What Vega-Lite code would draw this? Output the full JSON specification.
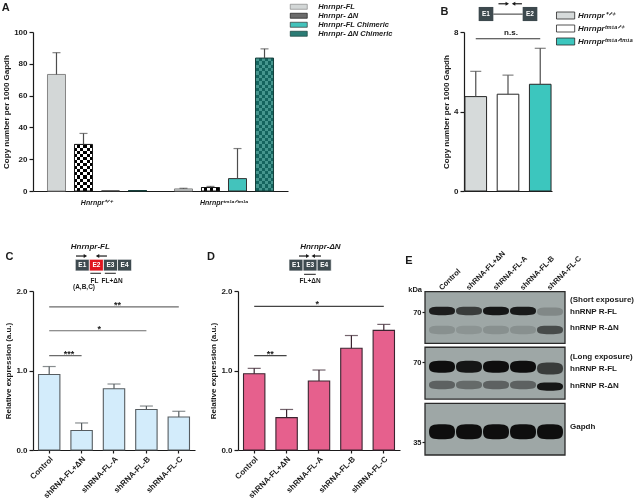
{
 "$schema": "https://vega.github.io/schema/vega-lite/v6.json",
 "background": "white",
 "padding": {"left": 1, "top": 1, "right": 0, "bottom": 0},
 "spacing": 38,
 "resolve": {"scale": {"color": "independent", "fill": "independent", "stroke": "independent", "opacity": "independent", "shape": "independent"}},
 "config": {
  "font": "Liberation Sans",
  "view": {"stroke": null},
  "axis": {"grid": false, "labelFontWeight": "bold", "labelFontSize": 8, "labelColor": "#1a1a1a", "titleFontWeight": "bold", "titleFontSize": 8, "titleColor": "#1a1a1a", "domainColor": "#1a1a1a", "domainWidth": 1.2, "tickColor": "#1a1a1a", "tickWidth": 1.2, "tickSize": 4, "labelPadding": 2, "titlePadding": 3},
  "legend": {"labelFontWeight": "bold", "labelFontStyle": "italic", "labelColor": "#1a1a1a"},
  "title": {"fontSize": 11, "fontWeight": "bold", "anchor": "start", "offset": 0, "color": "#1a1a1a"}
 },
 "vconcat": [
  {
   "bounds": "flush",
   "spacing": 176,
   "resolve": {"scale": {"color": "independent", "fill": "independent", "stroke": "independent", "opacity": "independent", "shape": "independent"}},
   "hconcat": [
    {
     "title": {"text": "A", "dx": -1, "dy": 14},
     "width": 255,
     "height": 159,
     "data": {"values": [
      {"genotype": "Hnrnpr⁺ᐟ⁺", "series": "Hnrnpr-FL", "mean": 73.3, "upper": 87.0},
      {"genotype": "Hnrnpr⁺ᐟ⁺", "series": "Hnrnpr- ΔN", "mean": 29.3, "upper": 36.2},
      {"genotype": "Hnrnpr⁺ᐟ⁺", "series": "Hnrnpr-FL Chimeric", "mean": 0, "upper": null},
      {"genotype": "Hnrnpr⁺ᐟ⁺", "series": "Hnrnpr- ΔN Chimeric", "mean": 0.3, "upper": null},
      {"genotype": "Hnrnprᵗᵐ¹ᵃᐟᵗᵐ¹ᵃ", "series": "Hnrnpr-FL", "mean": 1.3, "upper": 1.7},
      {"genotype": "Hnrnprᵗᵐ¹ᵃᐟᵗᵐ¹ᵃ", "series": "Hnrnpr- ΔN", "mean": 2.2, "upper": 2.9},
      {"genotype": "Hnrnprᵗᵐ¹ᵃᐟᵗᵐ¹ᵃ", "series": "Hnrnpr-FL Chimeric", "mean": 7.8, "upper": 26.7},
      {"genotype": "Hnrnprᵗᵐ¹ᵃᐟᵗᵐ¹ᵃ", "series": "Hnrnpr- ΔN Chimeric", "mean": 83.6, "upper": 89.4}
     ]},
     "encoding": {
      "x": {"field": "genotype", "type": "nominal", "sort": null, "scale": {"domain": ["Hnrnpr⁺ᐟ⁺", "Hnrnprᵗᵐ¹ᵃᐟᵗᵐ¹ᵃ"], "paddingInner": 0.22, "paddingOuter": 0.114}, "axis": {"title": null, "labelAngle": 0, "ticks": false, "labelFontStyle": "italic", "labelFontSize": 7, "labelPadding": 7}},
      "xOffset": {"field": "series", "type": "nominal", "sort": null, "scale": {"domain": ["Hnrnpr-FL", "Hnrnpr- ΔN", "Hnrnpr-FL Chimeric", "Hnrnpr- ΔN Chimeric"], "paddingInner": 0.333, "paddingOuter": 0}},
      "y": {"field": "mean", "type": "quantitative", "scale": {"domain": [0, 100], "nice": false}, "axis": {"title": "Copy number per 1000 Gapdh", "values": [0, 20, 40, 60, 80, 100]}}
     },
     "layer": [
      {"mark": {"type": "bar"},
       "encoding": {"color": {"field": "series", "type": "nominal", "sort": null,
        "scale": {"domain": ["Hnrnpr-FL", "Hnrnpr- ΔN", "Hnrnpr-FL Chimeric", "Hnrnpr- ΔN Chimeric"], "range": ["#d3d7d7", "#6b6b6b", "#43c3bc", "#2b7c75"]},
        "legend": {"orient": "none", "legendX": 262, "legendY": -29, "title": null, "symbolType": "M-3.4,-1H3.4V1H-3.4Z", "symbolSize": 25, "symbolStrokeColor": "#333333", "symbolStrokeWidth": 0.7, "labelFontSize": 7.5, "labelOffset": 15.7, "rowPadding": 0}}}},
      {"transform": [{"filter": "datum.series == 'Hnrnpr- ΔN'"}],
       "mark": {"type": "bar", "fill": {"gradient": "linear", "x1": 0, "y1": 0, "x2": 1, "y2": 0, "stops": [
        {"offset": 0, "color": "#000000"}, {"offset": 0.1667, "color": "#000000"}, {"offset": 0.1667, "color": "#ffffff"}, {"offset": 0.3333, "color": "#ffffff"},
        {"offset": 0.3333, "color": "#000000"}, {"offset": 0.5, "color": "#000000"}, {"offset": 0.5, "color": "#ffffff"}, {"offset": 0.6667, "color": "#ffffff"},
        {"offset": 0.6667, "color": "#000000"}, {"offset": 0.8333, "color": "#000000"}, {"offset": 0.8333, "color": "#ffffff"}, {"offset": 1, "color": "#ffffff"}]}}},
      {"transform": [{"filter": "datum.series == 'Hnrnpr- ΔN'"}],
       "mark": {"type": "bar", "blend": "difference", "fill": {"gradient": "linear", "x1": 0, "y1": 0, "x2": 0, "y2": 1, "stops": [
        {"offset": 0, "color": "#ffffff"}, {"offset": 0.0667, "color": "#ffffff"}, {"offset": 0.0667, "color": "rgba(255,255,255,0)"}, {"offset": 0.1333, "color": "rgba(255,255,255,0)"},
        {"offset": 0.1333, "color": "#ffffff"}, {"offset": 0.2, "color": "#ffffff"}, {"offset": 0.2, "color": "rgba(255,255,255,0)"}, {"offset": 0.2667, "color": "rgba(255,255,255,0)"},
        {"offset": 0.2667, "color": "#ffffff"}, {"offset": 0.3333, "color": "#ffffff"}, {"offset": 0.3333, "color": "rgba(255,255,255,0)"}, {"offset": 0.4, "color": "rgba(255,255,255,0)"},
        {"offset": 0.4, "color": "#ffffff"}, {"offset": 0.4667, "color": "#ffffff"}, {"offset": 0.4667, "color": "rgba(255,255,255,0)"}, {"offset": 0.5333, "color": "rgba(255,255,255,0)"},
        {"offset": 0.5333, "color": "#ffffff"}, {"offset": 0.6, "color": "#ffffff"}, {"offset": 0.6, "color": "rgba(255,255,255,0)"}, {"offset": 0.6667, "color": "rgba(255,255,255,0)"},
        {"offset": 0.6667, "color": "#ffffff"}, {"offset": 0.7333, "color": "#ffffff"}, {"offset": 0.7333, "color": "rgba(255,255,255,0)"}, {"offset": 0.8, "color": "rgba(255,255,255,0)"},
        {"offset": 0.8, "color": "#ffffff"}, {"offset": 0.8667, "color": "#ffffff"}, {"offset": 0.8667, "color": "rgba(255,255,255,0)"}, {"offset": 0.9333, "color": "rgba(255,255,255,0)"},
        {"offset": 0.9333, "color": "#ffffff"}, {"offset": 1, "color": "#ffffff"}]}}},
      {"transform": [{"filter": "datum.series == 'Hnrnpr- ΔN Chimeric'"}],
       "mark": {"type": "bar", "fill": {"gradient": "linear", "x1": 0, "y1": 0, "x2": 1, "y2": 0, "stops": [
        {"offset": 0, "color": "#14645e"}, {"offset": 0.1667, "color": "#14645e"}, {"offset": 0.1667, "color": "#46968e"}, {"offset": 0.3333, "color": "#46968e"},
        {"offset": 0.3333, "color": "#14645e"}, {"offset": 0.5, "color": "#14645e"}, {"offset": 0.5, "color": "#46968e"}, {"offset": 0.6667, "color": "#46968e"},
        {"offset": 0.6667, "color": "#14645e"}, {"offset": 0.8333, "color": "#14645e"}, {"offset": 0.8333, "color": "#46968e"}, {"offset": 1, "color": "#46968e"}]}}},
      {"transform": [{"filter": "datum.series == 'Hnrnpr- ΔN Chimeric'"}],
       "mark": {"type": "bar", "blend": "difference", "fill": {"gradient": "linear", "x1": 0, "y1": 0, "x2": 0, "y2": 1, "stops": [
        {"offset": 0, "color": "#5afaec"}, {"offset": 0.025, "color": "#5afaec"}, {"offset": 0.025, "color": "rgba(90,250,236,0)"}, {"offset": 0.05, "color": "rgba(90,250,236,0)"},
        {"offset": 0.05, "color": "#5afaec"}, {"offset": 0.075, "color": "#5afaec"}, {"offset": 0.075, "color": "rgba(90,250,236,0)"}, {"offset": 0.1, "color": "rgba(90,250,236,0)"},
        {"offset": 0.1, "color": "#5afaec"}, {"offset": 0.125, "color": "#5afaec"}, {"offset": 0.125, "color": "rgba(90,250,236,0)"}, {"offset": 0.15, "color": "rgba(90,250,236,0)"},
        {"offset": 0.15, "color": "#5afaec"}, {"offset": 0.175, "color": "#5afaec"}, {"offset": 0.175, "color": "rgba(90,250,236,0)"}, {"offset": 0.2, "color": "rgba(90,250,236,0)"},
        {"offset": 0.2, "color": "#5afaec"}, {"offset": 0.225, "color": "#5afaec"}, {"offset": 0.225, "color": "rgba(90,250,236,0)"}, {"offset": 0.25, "color": "rgba(90,250,236,0)"},
        {"offset": 0.25, "color": "#5afaec"}, {"offset": 0.275, "color": "#5afaec"}, {"offset": 0.275, "color": "rgba(90,250,236,0)"}, {"offset": 0.3, "color": "rgba(90,250,236,0)"},
        {"offset": 0.3, "color": "#5afaec"}, {"offset": 0.325, "color": "#5afaec"}, {"offset": 0.325, "color": "rgba(90,250,236,0)"}, {"offset": 0.35, "color": "rgba(90,250,236,0)"},
        {"offset": 0.35, "color": "#5afaec"}, {"offset": 0.375, "color": "#5afaec"}, {"offset": 0.375, "color": "rgba(90,250,236,0)"}, {"offset": 0.4, "color": "rgba(90,250,236,0)"},
        {"offset": 0.4, "color": "#5afaec"}, {"offset": 0.425, "color": "#5afaec"}, {"offset": 0.425, "color": "rgba(90,250,236,0)"}, {"offset": 0.45, "color": "rgba(90,250,236,0)"},
        {"offset": 0.45, "color": "#5afaec"}, {"offset": 0.475, "color": "#5afaec"}, {"offset": 0.475, "color": "rgba(90,250,236,0)"}, {"offset": 0.5, "color": "rgba(90,250,236,0)"},
        {"offset": 0.5, "color": "#5afaec"}, {"offset": 0.525, "color": "#5afaec"}, {"offset": 0.525, "color": "rgba(90,250,236,0)"}, {"offset": 0.55, "color": "rgba(90,250,236,0)"},
        {"offset": 0.55, "color": "#5afaec"}, {"offset": 0.575, "color": "#5afaec"}, {"offset": 0.575, "color": "rgba(90,250,236,0)"}, {"offset": 0.6, "color": "rgba(90,250,236,0)"},
        {"offset": 0.6, "color": "#5afaec"}, {"offset": 0.625, "color": "#5afaec"}, {"offset": 0.625, "color": "rgba(90,250,236,0)"}, {"offset": 0.65, "color": "rgba(90,250,236,0)"},
        {"offset": 0.65, "color": "#5afaec"}, {"offset": 0.675, "color": "#5afaec"}, {"offset": 0.675, "color": "rgba(90,250,236,0)"}, {"offset": 0.7, "color": "rgba(90,250,236,0)"},
        {"offset": 0.7, "color": "#5afaec"}, {"offset": 0.725, "color": "#5afaec"}, {"offset": 0.725, "color": "rgba(90,250,236,0)"}, {"offset": 0.75, "color": "rgba(90,250,236,0)"},
        {"offset": 0.75, "color": "#5afaec"}, {"offset": 0.775, "color": "#5afaec"}, {"offset": 0.775, "color": "rgba(90,250,236,0)"}, {"offset": 0.8, "color": "rgba(90,250,236,0)"},
        {"offset": 0.8, "color": "#5afaec"}, {"offset": 0.825, "color": "#5afaec"}, {"offset": 0.825, "color": "rgba(90,250,236,0)"}, {"offset": 0.85, "color": "rgba(90,250,236,0)"},
        {"offset": 0.85, "color": "#5afaec"}, {"offset": 0.875, "color": "#5afaec"}, {"offset": 0.875, "color": "rgba(90,250,236,0)"}, {"offset": 0.9, "color": "rgba(90,250,236,0)"},
        {"offset": 0.9, "color": "#5afaec"}, {"offset": 0.925, "color": "#5afaec"}, {"offset": 0.925, "color": "rgba(90,250,236,0)"}, {"offset": 0.95, "color": "rgba(90,250,236,0)"},
        {"offset": 0.95, "color": "#5afaec"}, {"offset": 0.975, "color": "#5afaec"}, {"offset": 0.975, "color": "rgba(90,250,236,0)"}, {"offset": 1, "color": "rgba(90,250,236,0)"}]}}},
      {"mark": {"type": "bar", "fillOpacity": 0, "strokeWidth": 1},
       "encoding": {"stroke": {"field": "series", "type": "nominal", "scale": {"domain": ["Hnrnpr-FL", "Hnrnpr- ΔN", "Hnrnpr-FL Chimeric", "Hnrnpr- ΔN Chimeric"], "range": ["#858585", "#1a1a1a", "#333333", "#173f3b"]}, "legend": null}}},
      {"transform": [{"filter": "datum.upper != null"}],
       "mark": {"type": "rule", "color": "#4d4d4d", "strokeWidth": 1.2},
       "encoding": {"y2": {"field": "upper"}}},
      {"transform": [{"filter": "datum.upper != null"}],
       "mark": {"type": "tick", "color": "#4d4d4d", "size": 8, "thickness": 1.2},
       "encoding": {"y": {"field": "upper", "type": "quantitative"}}}
     ]
    },
    {
     "title": {"text": "B", "dx": -2, "dy": 19},
     "width": 88,
     "height": 159,
     "resolve": {"scale": {"x": "independent"}},
     "layer": [
      {
       "data": {"values": [
        {"genotype": "Hnrnpr⁺ᐟ⁺", "mean": 4.75, "upper": 6.02},
        {"genotype": "Hnrnprᵗᵐ¹ᵃᐟ⁺", "mean": 4.87, "upper": 5.83},
        {"genotype": "Hnrnprᵗᵐ¹ᵃᐟᵗᵐ¹ᵃ", "mean": 5.37, "upper": 7.18}
       ]},
       "encoding": {
        "x": {"field": "genotype", "type": "nominal", "sort": null, "scale": {"domain": ["Hnrnpr⁺ᐟ⁺", "Hnrnprᵗᵐ¹ᵃᐟ⁺", "Hnrnprᵗᵐ¹ᵃᐟᵗᵐ¹ᵃ"], "paddingInner": 0.33, "paddingOuter": 0.03}, "axis": {"title": null, "labels": false, "ticks": false}},
        "y": {"field": "mean", "type": "quantitative", "scale": {"domain": [0, 8], "nice": false}, "axis": {"title": "Copy number per 1000 Gapdh", "values": [0, 2, 4, 6, 8]}}
       },
       "layer": [
        {"mark": {"type": "bar", "stroke": "#262626", "strokeWidth": 1},
         "encoding": {"color": {"field": "genotype", "type": "nominal", "sort": null,
          "scale": {"domain": ["Hnrnpr⁺ᐟ⁺", "Hnrnprᵗᵐ¹ᵃᐟ⁺", "Hnrnprᵗᵐ¹ᵃᐟᵗᵐ¹ᵃ"], "range": ["#d6dada", "#ffffff", "#3cc6be"]},
          "legend": {"orient": "none", "legendX": 97.6, "legendY": -20.5, "title": null, "symbolType": "M-2.6,-1H2.6V1H-2.6Z", "symbolSize": 49, "symbolStrokeColor": "#262626", "symbolStrokeWidth": 0.8, "labelFontSize": 8, "labelOffset": 8.4, "rowPadding": 1}}}},
        {"mark": {"type": "rule", "color": "#4d4d4d", "strokeWidth": 1.2}, "encoding": {"y2": {"field": "upper"}}},
        {"mark": {"type": "tick", "color": "#4d4d4d", "size": 11, "thickness": 1.2}, "encoding": {"y": {"field": "upper", "type": "quantitative"}}},
        {"data": {"values": [{"from": "Hnrnpr⁺ᐟ⁺", "to": "Hnrnprᵗᵐ¹ᵃᐟᵗᵐ¹ᵃ", "mid": "Hnrnprᵗᵐ¹ᵃᐟ⁺", "level": 7.66, "label": "n.s."}]},
         "layer": [
          {"mark": {"type": "rule", "color": "#333333", "strokeWidth": 1},
           "encoding": {"x": {"field": "from", "type": "nominal", "scale": {"domain": ["Hnrnpr⁺ᐟ⁺", "Hnrnprᵗᵐ¹ᵃᐟ⁺", "Hnrnprᵗᵐ¹ᵃᐟᵗᵐ¹ᵃ"], "paddingInner": 0.33, "paddingOuter": 0.03}}, "x2": {"field": "to"}, "y": {"field": "level", "type": "quantitative"}}},
          {"mark": {"type": "text", "fontSize": 8, "fontWeight": "bold", "color": "#1a1a1a", "baseline": "alphabetic", "dy": -4, "dx": 3},
           "encoding": {"x": {"field": "mid", "type": "nominal", "scale": {"domain": ["Hnrnpr⁺ᐟ⁺", "Hnrnprᵗᵐ¹ᵃᐟ⁺", "Hnrnprᵗᵐ¹ᵃᐟᵗᵐ¹ᵃ"], "paddingInner": 0.33, "paddingOuter": 0.03}}, "y": {"field": "level", "type": "quantitative"}, "text": {"field": "label"}}}
         ]}
       ]
      },
      {
       "layer": [
        {"data": {"values": [{"exon": "E1", "start": 1, "end": 2, "mid": 1.5}, {"exon": "E2", "start": 4, "end": 5, "mid": 4.5}]},
         "layer": [
          {"mark": {"type": "rect", "fill": "#3d494e"},
           "encoding": {"x": {"field": "start", "type": "quantitative", "scale": {"domain": [0, 6], "nice": false, "zero": false}, "axis": null}, "x2": {"field": "end"}, "y": {"datum": 9.26, "type": "quantitative"}, "y2": {"datum": 8.55}}},
          {"mark": {"type": "text", "color": "#ffffff", "fontSize": 6.5, "fontWeight": "bold", "baseline": "middle"},
           "encoding": {"x": {"field": "mid", "type": "quantitative", "scale": {"domain": [0, 6], "nice": false, "zero": false}, "axis": null}, "y": {"datum": 8.905, "type": "quantitative"}, "text": {"field": "exon"}}}
         ]},
        {"data": {"values": [{"start": 2, "end": 4}]},
         "mark": {"type": "rule", "color": "#333333", "strokeWidth": 1},
         "encoding": {"x": {"field": "start", "type": "quantitative", "scale": {"domain": [0, 6], "nice": false, "zero": false}, "axis": null}, "x2": {"field": "end"}, "y": {"datum": 8.9, "type": "quantitative"}}},
        {"data": {"values": [{"primer": "forward", "from": 2.35, "to": 2.95}, {"primer": "reverse", "from": 3.95, "to": 3.38}]},
         "layer": [
          {"mark": {"type": "rule", "color": "#1a1a1a", "strokeWidth": 1.2},
           "encoding": {"x": {"field": "from", "type": "quantitative", "scale": {"domain": [0, 6], "nice": false, "zero": false}, "axis": null}, "x2": {"field": "to"}, "y": {"datum": 9.42, "type": "quantitative"}}},
          {"mark": {"type": "point", "filled": true, "color": "#1a1a1a", "size": 16, "opacity": 1},
           "encoding": {"x": {"field": "to", "type": "quantitative", "scale": {"domain": [0, 6], "nice": false, "zero": false}, "axis": null}, "y": {"datum": 9.42, "type": "quantitative"},
            "shape": {"field": "primer", "type": "nominal", "scale": {"domain": ["forward", "reverse"], "range": ["triangle-right", "triangle-left"]}, "legend": null}}}
         ]}
       ]
      }
     ]
    }
   ]
  },
  {
   "bounds": "flush",
   "spacing": 43,
   "resolve": {"scale": {"color": "independent", "fill": "independent", "stroke": "independent", "opacity": "independent", "shape": "independent"}},
   "hconcat": [
    {
     "title": {"text": "C", "dx": 0.5, "dy": 23},
     "width": 162,
     "height": 159,
     "resolve": {"scale": {"x": "independent"}},
     "layer": [
      {
       "data": {"values": [
        {"condition": "Control", "mean": 0.95, "upper": 1.05},
        {"condition": "shRNA-FL+ΔN", "mean": 0.245, "upper": 0.34},
        {"condition": "shRNA-FL-A", "mean": 0.77, "upper": 0.83},
        {"condition": "shRNA-FL-B", "mean": 0.51, "upper": 0.553},
        {"condition": "shRNA-FL-C", "mean": 0.415, "upper": 0.487}
       ]},
       "encoding": {
        "x": {"field": "condition", "type": "nominal", "sort": null, "scale": {"domain": ["Control", "shRNA-FL+ΔN", "shRNA-FL-A", "shRNA-FL-B", "shRNA-FL-C"], "paddingInner": 0.34, "paddingOuter": 0.17}, "axis": {"title": null, "labelAngle": -45, "tickSize": 3}},
        "y": {"field": "mean", "type": "quantitative", "scale": {"domain": [0, 2], "nice": false}, "axis": {"title": "Relative expression (a.u.)", "values": [0, 0.5, 1, 1.5, 2], "format": ".1f"}}
       },
       "layer": [
        {"mark": {"type": "bar", "fill": "#d3ecfb", "stroke": "#565c60", "strokeWidth": 1.1}},
        {"mark": {"type": "rule", "color": "#565c60", "strokeWidth": 1.2}, "encoding": {"y2": {"field": "upper"}}},
        {"mark": {"type": "tick", "color": "#565c60", "size": 13, "thickness": 1.2}, "encoding": {"y": {"field": "upper", "type": "quantitative"}}},
        {"data": {"values": [
          {"from": "Control", "to": "shRNA-FL+ΔN", "level": 1.187},
          {"from": "Control", "to": "shRNA-FL-B", "level": 1.5},
          {"from": "Control", "to": "shRNA-FL-C", "level": 1.8}
         ]},
         "mark": {"type": "rule", "color": "#6b6b6b", "strokeWidth": 1.2},
         "encoding": {"x": {"field": "from", "type": "nominal", "scale": {"domain": ["Control", "shRNA-FL+ΔN", "shRNA-FL-A", "shRNA-FL-B", "shRNA-FL-C"], "paddingInner": 0.34, "paddingOuter": 0.17}}, "x2": {"field": "to"}, "y": {"field": "level", "type": "quantitative"}}}
       ]
      },
      {
       "layer": [
        {"data": {"values": [
          {"exon": "E1", "start": 3, "end": 4, "mid": 3.5, "region": "shared"},
          {"exon": "E2", "start": 4, "end": 5, "mid": 4.5, "region": "FL-specific"},
          {"exon": "E3", "start": 5, "end": 6, "mid": 5.5, "region": "shared"},
          {"exon": "E4", "start": 6, "end": 7, "mid": 6.5, "region": "shared"}
         ]},
         "layer": [
          {"mark": {"type": "rect", "stroke": "#ffffff", "strokeWidth": 0.7},
           "encoding": {"x": {"field": "start", "type": "quantitative", "scale": {"domain": [0, 11.5], "nice": false, "zero": false}, "axis": null}, "x2": {"field": "end"}, "y": {"datum": 2.399, "type": "quantitative"}, "y2": {"datum": 2.252},
            "fill": {"field": "region", "type": "nominal", "scale": {"domain": ["shared", "FL-specific"], "range": ["#3e4a4f", "#e0151f"]}, "legend": null}}},
          {"mark": {"type": "text", "color": "#ffffff", "fontSize": 6.5, "fontWeight": "bold", "baseline": "middle"},
           "encoding": {"x": {"field": "mid", "type": "quantitative", "scale": {"domain": [0, 11.5], "nice": false, "zero": false}, "axis": null}, "y": {"datum": 2.325, "type": "quantitative"}, "text": {"field": "exon"}}}
         ]},
        {"data": {"values": [{"amplicon": "FL", "start": 4.07, "end": 4.83, "mid": 4.36}, {"amplicon": "FL+ΔN", "start": 5.1, "end": 5.88, "mid": 5.62}]},
         "layer": [
          {"mark": {"type": "rule", "color": "#1a1a1a", "strokeWidth": 1},
           "encoding": {"x": {"field": "start", "type": "quantitative", "scale": {"domain": [0, 11.5], "nice": false, "zero": false}, "axis": null}, "x2": {"field": "end"}, "y": {"datum": 2.223, "type": "quantitative"}}},
          {"mark": {"type": "text", "fontSize": 6.5, "fontWeight": "bold", "color": "#1a1a1a", "baseline": "middle"},
           "encoding": {"x": {"field": "mid", "type": "quantitative", "scale": {"domain": [0, 11.5], "nice": false, "zero": false}, "axis": null}, "y": {"datum": 2.13, "type": "quantitative"}, "text": {"field": "amplicon"}}}
         ]},
        {"data": {"values": [{"label": "(A,B,C)", "at": 3.62}]},
         "mark": {"type": "text", "fontSize": 6.5, "fontWeight": "bold", "color": "#1a1a1a", "baseline": "middle"},
         "encoding": {"x": {"field": "at", "type": "quantitative", "scale": {"domain": [0, 11.5], "nice": false, "zero": false}, "axis": null}, "y": {"datum": 2.045, "type": "quantitative"}, "text": {"field": "label"}}},
        {"data": {"values": [{"label": "Hnrnpr-FL", "at": 4.07}]},
         "mark": {"type": "text", "fontSize": 8, "fontWeight": "bold", "fontStyle": "italic", "color": "#1a1a1a", "baseline": "middle"},
         "encoding": {"x": {"field": "at", "type": "quantitative", "scale": {"domain": [0, 11.5], "nice": false, "zero": false}, "axis": null}, "y": {"datum": 2.55, "type": "quantitative"}, "text": {"field": "label"}}},
        {"data": {"values": [{"primer": "forward", "from": 3.05, "to": 3.72}, {"primer": "reverse", "from": 5.25, "to": 4.58}]},
         "layer": [
          {"mark": {"type": "rule", "color": "#1a1a1a", "strokeWidth": 1.2},
           "encoding": {"x": {"field": "from", "type": "quantitative", "scale": {"domain": [0, 11.5], "nice": false, "zero": false}, "axis": null}, "x2": {"field": "to"}, "y": {"datum": 2.44, "type": "quantitative"}}},
          {"mark": {"type": "point", "filled": true, "color": "#1a1a1a", "size": 16, "opacity": 1},
           "encoding": {"x": {"field": "to", "type": "quantitative", "scale": {"domain": [0, 11.5], "nice": false, "zero": false}, "axis": null}, "y": {"datum": 2.44, "type": "quantitative"},
            "shape": {"field": "primer", "type": "nominal", "scale": {"domain": ["forward", "reverse"], "range": ["triangle-right", "triangle-left"]}, "legend": null}}}
         ]},
        {"data": {"values": [{"label": "***", "at": 2.55, "level": 1.187}, {"label": "*", "at": 4.7, "level": 1.5}, {"label": "**", "at": 6.0, "level": 1.8}]},
         "mark": {"type": "text", "fontSize": 9, "fontWeight": "bold", "color": "#1a1a1a", "baseline": "alphabetic", "dy": 1},
         "encoding": {"x": {"field": "at", "type": "quantitative", "scale": {"domain": [0, 11.5], "nice": false, "zero": false}, "axis": null}, "y": {"field": "level", "type": "quantitative"}, "text": {"field": "label"}}}
       ]
      }
     ]
    },
    {
     "bounds": "flush",
     "spacing": 25,
     "resolve": {"scale": {"color": "independent", "fill": "independent", "stroke": "independent", "opacity": "independent", "shape": "independent"}},
     "hconcat": [
      {
       "title": {"text": "D", "dx": -3, "dy": 23},
       "width": 162,
       "height": 159,
       "resolve": {"scale": {"x": "independent"}},
       "layer": [
        {
         "data": {"values": [
          {"condition": "Control", "mean": 0.96, "upper": 1.027},
          {"condition": "shRNA-FL+ΔN", "mean": 0.407, "upper": 0.51},
          {"condition": "shRNA-FL-A", "mean": 0.868, "upper": 1.006},
          {"condition": "shRNA-FL-B", "mean": 1.279, "upper": 1.44},
          {"condition": "shRNA-FL-C", "mean": 1.505, "upper": 1.58}
         ]},
         "encoding": {
          "x": {"field": "condition", "type": "nominal", "sort": null, "scale": {"domain": ["Control", "shRNA-FL+ΔN", "shRNA-FL-A", "shRNA-FL-B", "shRNA-FL-C"], "paddingInner": 0.34, "paddingOuter": 0.17}, "axis": {"title": null, "labelAngle": -45, "tickSize": 3}},
          "y": {"field": "mean", "type": "quantitative", "scale": {"domain": [0, 2], "nice": false}, "axis": {"title": "Relative expression (a.u.)", "values": [0, 0.5, 1, 1.5, 2], "format": ".1f"}}
         },
         "layer": [
          {"mark": {"type": "bar", "fill": "#e6608d", "stroke": "#3b2430", "strokeWidth": 1.1}},
          {"mark": {"type": "rule", "color": "#3b2430", "strokeWidth": 1.2}, "encoding": {"y2": {"field": "upper"}}},
          {"mark": {"type": "tick", "color": "#3b2430", "size": 13, "thickness": 1.2}, "encoding": {"y": {"field": "upper", "type": "quantitative"}}},
          {"data": {"values": [
            {"from": "Control", "to": "shRNA-FL+ΔN", "level": 1.187},
            {"from": "Control", "to": "shRNA-FL-C", "level": 1.807}
           ]},
           "mark": {"type": "rule", "color": "#444444", "strokeWidth": 1.2},
           "encoding": {"x": {"field": "from", "type": "nominal", "scale": {"domain": ["Control", "shRNA-FL+ΔN", "shRNA-FL-A", "shRNA-FL-B", "shRNA-FL-C"], "paddingInner": 0.34, "paddingOuter": 0.17}}, "x2": {"field": "to"}, "y": {"field": "level", "type": "quantitative"}}}
         ]
        },
        {
         "layer": [
          {"data": {"values": [
            {"exon": "E1", "start": 3.62, "end": 4.62, "mid": 4.12},
            {"exon": "E3", "start": 4.62, "end": 5.62, "mid": 5.12},
            {"exon": "E4", "start": 5.62, "end": 6.62, "mid": 6.12}
           ]},
           "layer": [
            {"mark": {"type": "rect", "fill": "#3e4a4f", "stroke": "#ffffff", "strokeWidth": 0.7},
             "encoding": {"x": {"field": "start", "type": "quantitative", "scale": {"domain": [0, 11.5], "nice": false, "zero": false}, "axis": null}, "x2": {"field": "end"}, "y": {"datum": 2.399, "type": "quantitative"}, "y2": {"datum": 2.252}}},
            {"mark": {"type": "text", "color": "#ffffff", "fontSize": 6.5, "fontWeight": "bold", "baseline": "middle"},
             "encoding": {"x": {"field": "mid", "type": "quantitative", "scale": {"domain": [0, 11.5], "nice": false, "zero": false}, "axis": null}, "y": {"datum": 2.325, "type": "quantitative"}, "text": {"field": "exon"}}}
           ]},
          {"data": {"values": [{"amplicon": "FL+ΔN", "start": 4.69, "end": 5.52, "mid": 5.12}]},
           "layer": [
            {"mark": {"type": "rule", "color": "#1a1a1a", "strokeWidth": 1},
             "encoding": {"x": {"field": "start", "type": "quantitative", "scale": {"domain": [0, 11.5], "nice": false, "zero": false}, "axis": null}, "x2": {"field": "end"}, "y": {"datum": 2.21, "type": "quantitative"}}},
            {"mark": {"type": "text", "fontSize": 6.5, "fontWeight": "bold", "color": "#1a1a1a", "baseline": "middle"},
             "encoding": {"x": {"field": "mid", "type": "quantitative", "scale": {"domain": [0, 11.5], "nice": false, "zero": false}, "axis": null}, "y": {"datum": 2.13, "type": "quantitative"}, "text": {"field": "amplicon"}}}
           ]},
          {"data": {"values": [{"label": "Hnrnpr-ΔN", "at": 5.85}]},
           "mark": {"type": "text", "fontSize": 8, "fontWeight": "bold", "fontStyle": "italic", "color": "#1a1a1a", "baseline": "middle"},
           "encoding": {"x": {"field": "at", "type": "quantitative", "scale": {"domain": [0, 11.5], "nice": false, "zero": false}, "axis": null}, "y": {"datum": 2.55, "type": "quantitative"}, "text": {"field": "label"}}},
          {"data": {"values": [{"primer": "forward", "from": 4.33, "to": 4.95}, {"primer": "reverse", "from": 5.89, "to": 5.34}]},
           "layer": [
            {"mark": {"type": "rule", "color": "#1a1a1a", "strokeWidth": 1.2},
             "encoding": {"x": {"field": "from", "type": "quantitative", "scale": {"domain": [0, 11.5], "nice": false, "zero": false}, "axis": null}, "x2": {"field": "to"}, "y": {"datum": 2.44, "type": "quantitative"}}},
            {"mark": {"type": "point", "filled": true, "color": "#1a1a1a", "size": 16, "opacity": 1},
             "encoding": {"x": {"field": "to", "type": "quantitative", "scale": {"domain": [0, 11.5], "nice": false, "zero": false}, "axis": null}, "y": {"datum": 2.44, "type": "quantitative"},
              "shape": {"field": "primer", "type": "nominal", "scale": {"domain": ["forward", "reverse"], "range": ["triangle-right", "triangle-left"]}, "legend": null}}}
           ]},
          {"data": {"values": [{"label": "**", "at": 2.29, "level": 1.187}, {"label": "*", "at": 5.63, "level": 1.807}]},
           "mark": {"type": "text", "fontSize": 9, "fontWeight": "bold", "color": "#1a1a1a", "baseline": "alphabetic", "dy": 1},
           "encoding": {"x": {"field": "at", "type": "quantitative", "scale": {"domain": [0, 11.5], "nice": false, "zero": false}, "axis": null}, "y": {"field": "level", "type": "quantitative"}, "text": {"field": "label"}}}
         ]
        }
       ]
      },
      {
       "title": {"text": "E", "dx": -3, "dy": 20},
       "width": 140,
       "height": 164,
       "layer": [
        {"data": {"values": [
          {"exposure": "Short exposure", "top": 0.4, "bottom": 31.9},
          {"exposure": "Long exposure", "top": 34.3, "bottom": 65.9},
          {"exposure": "Gapdh", "top": 68.5, "bottom": 100}
         ]},
         "mark": {"type": "rect", "fill": "#9ea7a6", "stroke": "#2a2a2a", "strokeWidth": 1.3},
         "encoding": {
          "x": {"datum": 0.37, "type": "quantitative", "scale": {"domain": [0.37, 5.555], "nice": false, "zero": false}, "axis": null},
          "x2": {"datum": 5.555},
          "y": {"field": "top", "type": "quantitative", "scale": {"domain": [0, 100], "reverse": true, "nice": false, "zero": false},
           "axis": {"values": [13.1, 43.3, 92.1], "labelExpr": "datum.value < 80 ? '70' : '35'", "domain": false, "tickSize": 3, "labelPadding": 1, "labelFontSize": 7.5, "title": null}},
          "y2": {"field": "bottom"}
         }},
        {"data": {"values": [
          {"lane": 1, "exposure": "short", "protein": "hnRNP R-FL", "migration": 12.2, "intensity": 0.9},
          {"lane": 2, "exposure": "short", "protein": "hnRNP R-FL", "migration": 12.2, "intensity": 0.7},
          {"lane": 3, "exposure": "short", "protein": "hnRNP R-FL", "migration": 12.2, "intensity": 0.95},
          {"lane": 4, "exposure": "short", "protein": "hnRNP R-FL", "migration": 12.2, "intensity": 0.92},
          {"lane": 5, "exposure": "short", "protein": "hnRNP R-FL", "migration": 12.6, "intensity": 0.2},
          {"lane": 1, "exposure": "short", "protein": "hnRNP R-ΔN", "migration": 23.8, "intensity": 0.15},
          {"lane": 2, "exposure": "short", "protein": "hnRNP R-ΔN", "migration": 23.8, "intensity": 0.12},
          {"lane": 3, "exposure": "short", "protein": "hnRNP R-ΔN", "migration": 23.8, "intensity": 0.15},
          {"lane": 4, "exposure": "short", "protein": "hnRNP R-ΔN", "migration": 23.8, "intensity": 0.15},
          {"lane": 5, "exposure": "short", "protein": "hnRNP R-ΔN", "migration": 23.8, "intensity": 0.6},
          {"lane": 1, "exposure": "long", "protein": "hnRNP R-FL", "migration": 46.2, "intensity": 1},
          {"lane": 2, "exposure": "long", "protein": "hnRNP R-FL", "migration": 46.2, "intensity": 0.95},
          {"lane": 3, "exposure": "long", "protein": "hnRNP R-FL", "migration": 46.2, "intensity": 1},
          {"lane": 4, "exposure": "long", "protein": "hnRNP R-FL", "migration": 46.2, "intensity": 1},
          {"lane": 5, "exposure": "long", "protein": "hnRNP R-FL", "migration": 47.2, "intensity": 0.7},
          {"lane": 1, "exposure": "long", "protein": "hnRNP R-ΔN", "migration": 57.3, "intensity": 0.45},
          {"lane": 2, "exposure": "long", "protein": "hnRNP R-ΔN", "migration": 57.3, "intensity": 0.4},
          {"lane": 3, "exposure": "long", "protein": "hnRNP R-ΔN", "migration": 57.3, "intensity": 0.45},
          {"lane": 4, "exposure": "long", "protein": "hnRNP R-ΔN", "migration": 57.3, "intensity": 0.45},
          {"lane": 5, "exposure": "long", "protein": "hnRNP R-ΔN", "migration": 58.3, "intensity": 0.95},
          {"lane": 1, "exposure": "gapdh", "protein": "Gapdh", "migration": 85.8, "intensity": 1},
          {"lane": 2, "exposure": "gapdh", "protein": "Gapdh", "migration": 85.8, "intensity": 1},
          {"lane": 3, "exposure": "gapdh", "protein": "Gapdh", "migration": 85.8, "intensity": 1},
          {"lane": 4, "exposure": "gapdh", "protein": "Gapdh", "migration": 85.8, "intensity": 1},
          {"lane": 5, "exposure": "gapdh", "protein": "Gapdh", "migration": 85.8, "intensity": 1}
         ]},
         "encoding": {
          "x": {"field": "lane", "type": "quantitative", "scale": {"domain": [0.37, 5.555], "nice": false, "zero": false}, "axis": null},
          "y": {"field": "migration", "type": "quantitative"},
          "opacity": {"field": "intensity", "type": "quantitative", "scale": {"domain": [0, 1], "range": [0, 1]}, "legend": null}
         },
         "layer": [
          {"transform": [{"filter": "datum.protein == 'hnRNP R-ΔN' || datum.exposure == 'short'"}],
           "mark": {"type": "point", "filled": true, "color": "#0e0e0e", "size": 676, "shape": "M-1,0C-1,-0.3 -0.7,-0.32 0,-0.32C0.7,-0.32 1,-0.3 1,0C1,0.3 0.7,0.32 0,0.32C-0.7,0.32 -1,0.3 -1,0Z"}},
          {"transform": [{"filter": "datum.exposure == 'long' && datum.protein == 'hnRNP R-FL'"}],
           "mark": {"type": "point", "filled": true, "color": "#0e0e0e", "size": 676, "shape": "M-1,0C-1,-0.42 -0.7,-0.46 0,-0.46C0.7,-0.46 1,-0.42 1,0C1,0.42 0.7,0.46 0,0.46C-0.7,0.46 -1,0.42 -1,0Z"}},
          {"transform": [{"filter": "datum.protein == 'Gapdh'"}],
           "mark": {"type": "point", "filled": true, "color": "#0e0e0e", "size": 676, "shape": "M-1,0C-1,-0.54 -0.7,-0.58 0,-0.58C0.7,-0.58 1,-0.54 1,0C1,0.54 0.7,0.58 0,0.58C-0.7,0.58 -1,0.54 -1,0Z"}}
         ]},
        {"data": {"values": [
          {"lane": 1, "sample": "Control"},
          {"lane": 2, "sample": "shRNA-FL+ΔN"},
          {"lane": 3, "sample": "shRNA-FL-A"},
          {"lane": 4, "sample": "shRNA-FL-B"},
          {"lane": 5, "sample": "shRNA-FL-C"}
         ]},
         "mark": {"type": "text", "angle": 315, "align": "left", "baseline": "middle", "fontSize": 7.5, "fontWeight": "bold", "color": "#1a1a1a", "dx": -2},
         "encoding": {"x": {"field": "lane", "type": "quantitative"}, "y": {"datum": -2, "type": "quantitative"}, "text": {"field": "sample"}}},
        {"data": {"values": [
          {"label": "(Short exposure)", "migration": 5.5},
          {"label": "hnRNP R-FL", "migration": 12.6},
          {"label": "hnRNP R-ΔN", "migration": 22.4},
          {"label": "(Long exposure)", "migration": 40.1},
          {"label": "hnRNP R-FL", "migration": 47.7},
          {"label": "hnRNP R-ΔN", "migration": 58.2},
          {"label": "Gapdh", "migration": 82.7}
         ]},
         "mark": {"type": "text", "align": "left", "baseline": "middle", "fontSize": 8, "fontWeight": "bold", "color": "#1a1a1a"},
         "encoding": {"x": {"datum": 5.74, "type": "quantitative"}, "y": {"field": "migration", "type": "quantitative"}, "text": {"field": "label"}}},
        {"data": {"values": [{"label": "kDa"}]},
         "mark": {"type": "text", "align": "right", "baseline": "middle", "fontSize": 7.5, "fontWeight": "bold", "color": "#1a1a1a"},
         "encoding": {"x": {"datum": 0.26, "type": "quantitative"}, "y": {"datum": -0.8, "type": "quantitative"}, "text": {"field": "label"}}}
       ]
      }
     ]
    }
   ]
  }
 ]
}
